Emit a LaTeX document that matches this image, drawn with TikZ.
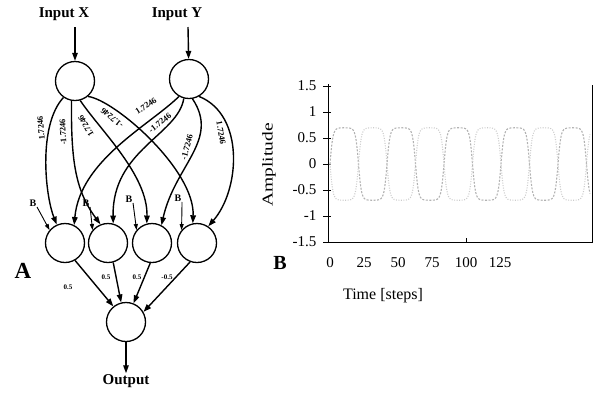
\documentclass[tikz,border=0pt]{standalone}
\usepackage{fontspec}
\setmainfont{Liberation Serif}
\usetikzlibrary{arrows.meta}
\begin{document}
\begin{tikzpicture}[x=1pt,y=-1pt,
  neuron/.style={circle,draw,line width=1.3pt,minimum size=39pt,inner sep=0pt},
  arr/.style={line width=1.4pt,-{Triangle[length=8pt,width=5.5pt]}},
  barr/.style={line width=0.9pt,-{Triangle[length=6pt,width=4pt]}},
  wlab/.style={font=\fontsize{8.5}{9}\selectfont\bfseries,inner sep=0.5pt},
  olab/.style={font=\fontsize{7}{8}\selectfont\bfseries,inner sep=0.5pt},
  blab/.style={font=\fontsize{10}{11}\selectfont\bfseries,inner sep=0.5pt},
  inlab/.style={font=\fontsize{15}{16}\selectfont\bfseries,inner sep=1pt},
  ticklab/.style={font=\fontsize{15}{16}\selectfont,inner sep=0.5pt},
  axisline/.style={line width=0.8pt},
  waveA/.style={gray!60,line width=1.1pt,dash pattern=on 2pt off 1.5pt},
  waveB/.style={gray!40,line width=1.1pt,dash pattern=on 1pt off 1.5pt}
]
\useasboundingbox (0,0) rectangle (601,392);
% ---------- Panel A ----------
\node[neuron] (X) at (75,81) {};
\node[neuron] (Y) at (189,79) {};
\node[neuron] (H1) at (65,243) {};
\node[neuron] (H2) at (108,243) {};
\node[neuron] (H3) at (152,243) {};
\node[neuron] (H4) at (197,243) {};
\node[neuron] (O) at (126,322) {};

\node[inlab] (tx) at (64,14) {Input X};
\node[inlab] (ty) at (177,14) {Input Y};
\coordinate (xin) at (75,27);
\coordinate (yin) at (188,27);
\draw[arr] (xin) -- (X);
\draw[arr] (yin) -- (Y);

% input -> hidden
\draw[arr] (X.235) .. controls (38,125) and (45,195) .. (H1.114);
\draw[arr] (X.260) .. controls (71,160) and (75,190) .. (H2.112);
\draw[arr] (X.285) .. controls (100,130) and (148,175) .. (H3.105);
\draw[arr] (X.310) .. controls (115,100) and (195,170) .. (H4.102);
\draw[arr] (Y.240) .. controls (150,125) and (80,160) .. (H1.63);
\draw[arr] (Y.255) .. controls (178,135) and (112,150) .. (H2.75);
\draw[arr] (Y.280) .. controls (220,140) and (175,165) .. (H3.62);
\draw[arr] (Y.300) .. controls (245,115) and (240,190) .. (H4.56);

\node[wlab,rotate=95] (w1) at (41,128) {1.7246};
\node[wlab,rotate=93] (w2) at (63,132) {-1.7246};
\node[wlab,rotate=120] (w3) at (86,126) {1.7246};
\node[wlab,rotate=140] (w4) at (112,118) {-1.7246};
\node[wlab,rotate=33] (w5) at (146,106) {1.7246};
\node[wlab,rotate=38] (w6) at (160,123) {-1.7246};
\node[wlab,rotate=75] (w7) at (187,147) {-1.7246};
\node[wlab,rotate=-80] (w8) at (221,133) {1.7246};

% bias inputs
\node[blab] (B1) at (33,203) {B};
\node[blab] (B2) at (86,203) {B};
\node[blab] (B3) at (129,199) {B};
\node[blab] (B4) at (178,198) {B};
\draw[barr] (B1.south east) -- (H1.140);
\draw[barr] (B2.south east) -- (H2.140);
\draw[barr] (B3.south east) -- (H3.140);
\draw[barr] (B4.south east) -- (H4.140);

% hidden -> output
\draw[arr] (H1.-60) -- (O.129);
\draw[arr] (H2.-75) -- (O.104);
\draw[arr] (H3.-95) -- (O.68);
\draw[arr] (H4.-110) -- (O.30);
\node[olab] (o1) at (68,287) {0.5};
\node[olab] (o2) at (106,277) {0.5};
\node[olab] (o3) at (137,277) {0.5};
\node[olab] (o4) at (167,277) {-0.5};

\node[inlab] (tout) at (126,381) {Output};
\draw[arr] (O) -- (tout.north);

\node[font=\fontsize{23}{24}\selectfont\bfseries,inner sep=0pt] (lblA) at (23,271) {A};

% ---------- Panel B ----------
\draw[axisline] (328,84) -- (328,242) -- (592,242) -- (592,85);
\foreach \v/\yy [count=\i] in {1.5/86,1/112,0.5/138,0/164,-0.5/190,-1/216,-1.5/242}{
  \draw[axisline] (323,\yy) -- (331,\yy);
  \node[ticklab,anchor=east] (yl\i) at (317,\yy) {\v};
}
\foreach \v/\xx [count=\i] in {0/330,25/364,50/398,75/432,100/466,125/500}{
  \node[ticklab] (xl\i) at (\xx,263) {\v};
}
\draw[axisline] (466,238) -- (466,242);

\draw[waveA] plot[domain=330:590,samples=260,smooth,variable=\t]
  (\t,{164-36.4*tanh(3*sin(6.31579*(\t-330)))});
\draw[waveB] plot[domain=330:590,samples=260,smooth,variable=\t]
  (\t,{164+36.4*tanh(3*sin(6.31579*(\t-330)))});

\node[rotate=90,font=\fontsize{15}{16}\selectfont,inner sep=0pt] (amp) at (269,165) {\scalebox{1.3}[1]{Amplitude}};
\node[font=\fontsize{16}{17}\selectfont,inner sep=0pt] (tlab) at (383,296) {Time [steps]};
\node[font=\fontsize{20}{21}\selectfont\bfseries,inner sep=0pt] (lblB) at (280,263) {B};
\end{tikzpicture}
\end{document}
